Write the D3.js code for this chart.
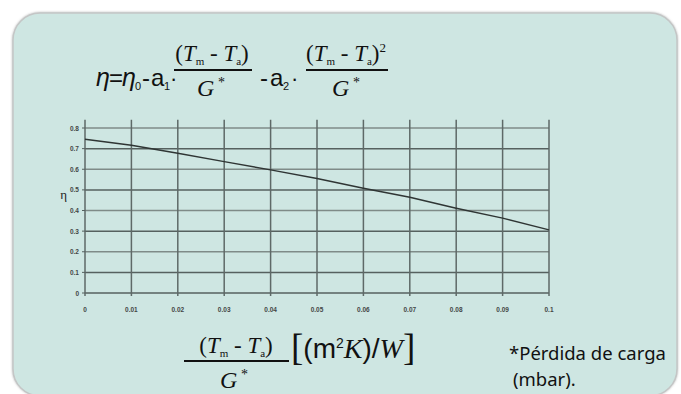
<!DOCTYPE html>
<html><head><meta charset="utf-8">
<script src="https://cdn.jsdelivr.net/npm/d3@7"></script>
<style>html,body{margin:0;padding:0;background:#fff;}svg{display:block;}</style>
</head><body>
<svg id="c" width="681" height="394"></svg>
<script>
// Data
const xValues = [0, 0.01, 0.02, 0.03, 0.04, 0.05, 0.06, 0.07, 0.08, 0.09, 0.1];
const etaValues = [0.745, 0.716, 0.678, 0.637, 0.597, 0.555, 0.508, 0.464, 0.411, 0.363, 0.306];
const xTickLabels = ["0", "0.01", "0.02", "0.03", "0.04", "0.05", "0.06", "0.07", "0.08", "0.09", "0.1"];
const yTicks = [0, 0.1, 0.2, 0.3, 0.4, 0.5, 0.6, 0.7, 0.8];
const yTickLabels = ["0", "0.1", "0.2", "0.3", "0.4", "0.5", "0.6", "0.7", "0.8"];

const svg = d3.select("#c");
const defs = svg.append("defs");
const f = defs.append("filter").attr("id","sh").attr("x","-5%").attr("y","-5%").attr("width","110%").attr("height","110%");
f.append("feDropShadow").attr("dx",0).attr("dy",0).attr("stdDeviation",0.8).attr("flood-color","#888").attr("flood-opacity",0.6);

// panel
svg.append("rect").attr("x",13).attr("y",13).attr("width",664).attr("height",383)
  .attr("rx",27).attr("ry",27).attr("fill","#cee6e2").attr("stroke","#c4c6c6").attr("stroke-width",1.5)
  .attr("filter","url(#sh)");

const x = d3.scaleLinear().domain([0, 0.1]).range([85, 549]);
const y = d3.scaleLinear().domain([0, 0.8]).range([293, 128]);

const g = svg.append("g");
g.selectAll("line.h").data(yTicks).enter().append("line")
  .attr("x1", x(0)).attr("x2", x(0.1))
  .attr("y1", d => y(d)).attr("y2", d => y(d))
  .attr("stroke", (d,i) => (i % 2 === 1 || i === 0) ? "#56615f" : "#7f8b88")
  .attr("stroke-width", 1.5);
g.selectAll("line.v").data(xValues).enter().append("line")
  .attr("x1", d => x(d)).attr("x2", d => x(d))
  .attr("y1", y(0) + 3).attr("y2", y(0.84))
  .attr("stroke", "#5e6967")
  .attr("stroke-width", 1.5);
g.selectAll("line.yt").data(yTicks).enter().append("line")
  .attr("x1", x(0) - 3).attr("x2", x(0))
  .attr("y1", d => y(d)).attr("y2", d => y(d))
  .attr("stroke", "#56615f").attr("stroke-width", 1);

g.selectAll("text.xl").data(xValues).enter().append("text")
  .attr("x", d => x(d)).attr("y", 312)
  .attr("text-anchor","middle").attr("font-family","Liberation Sans, Arial, sans-serif")
  .attr("font-size", 6.5).attr("font-weight","bold").attr("fill","#444746")
  .text((d,i) => xTickLabels[i]);
g.selectAll("text.yl").data(yTicks).enter().append("text")
  .attr("x", 79).attr("y", d => y(d) + 2.5)
  .attr("text-anchor","end").attr("font-family","Liberation Sans, Arial, sans-serif")
  .attr("font-size", 6.5).attr("font-weight","bold").attr("fill","#444746")
  .text((d,i) => yTickLabels[i]);
svg.append("text").attr("x",67).attr("y",199).attr("text-anchor","end")
  .attr("font-family","Liberation Serif, serif").attr("font-size",13).attr("fill","#222").text("η");

const line = d3.line().x((d,i) => x(xValues[i])).y(d => y(d));
g.append("path").datum(etaValues).attr("d", line)
  .attr("fill","none").attr("stroke","#2f3534").attr("stroke-width",1.5);

// ---- Formula at top ----
const SANS = "Liberation Sans, Arial, sans-serif";
const SERIF = "Liberation Serif, Times New Roman, serif";
const BASE = 86;
function piece(xp, txt, opt){
  opt = opt || {};
  const t = svg.append("text").attr("x",xp).attr("y",BASE + (opt.dy||0))
    .attr("font-family",SANS).attr("font-size",opt.fs||24).attr("fill","#111").text(txt);
  if (opt.it) t.attr("font-style","italic");
}
function numer(cx, yp, sq){
  const t = svg.append("text").attr("x",cx).attr("y",yp).attr("text-anchor","middle")
    .attr("font-family",SERIF).attr("font-size",23).attr("fill","#111");
  t.append("tspan").text("(");
  t.append("tspan").attr("font-style","italic").text("T");
  t.append("tspan").attr("font-size",11).attr("dy",4).text("m");
  t.append("tspan").attr("dy",-4).text(" - ");
  t.append("tspan").attr("font-style","italic").text("T");
  t.append("tspan").attr("font-size",11).attr("dy",4).text("a");
  t.append("tspan").attr("dy",-4).text(")");
  if (sq) t.append("tspan").attr("font-size",13).attr("dy",-9).text("2");
}
function denom(cx, yp){
  const t = svg.append("text").attr("x",cx).attr("y",yp).attr("text-anchor","middle")
    .attr("font-family",SERIF).attr("font-size",24).attr("fill","#111");
  t.append("tspan").attr("font-style","italic").text("G");
  t.append("tspan").attr("font-size",14).attr("dy",-9).text(" *");
}
function fracLine(x1, x2, yp){
  svg.append("line").attr("x1",x1).attr("x2",x2).attr("y1",yp).attr("y2",yp)
    .attr("stroke","#111").attr("stroke-width",1.8);
}
piece(96, "η", {it:true, fs:25});
piece(109, "=");
piece(122, "η", {it:true, fs:25});
piece(135, "0", {fs:11, dy:4});
piece(142, "-");
piece(151, "a");
piece(164, "1", {fs:11, dy:4});
piece(170, "·", {fs:22});
numer(212, 61, false); fracLine(174, 252, 70); denom(211, 96);
piece(260, "-");
piece(270, "a");
piece(283, "2", {fs:11, dy:4});
piece(291, "·", {fs:22});
numer(346, 61, true); fracLine(306, 388, 70); denom(346, 96);

// ---- Bottom axis label ----
numer(236, 353, false); fracLine(184, 289, 361); denom(234, 388);
const u = svg.append("text").attr("x",291).attr("y",358).attr("font-family",SANS)
  .attr("font-size",28).attr("fill","#111");
u.append("tspan").attr("font-family",SERIF).attr("font-size",37).attr("dy",2).text("[");
u.append("tspan").attr("dy",-2).text("(m");
u.append("tspan").attr("font-size",14).attr("dy",-10).text("2");
u.append("tspan").attr("dy",10).attr("font-family",SERIF).attr("font-style","italic").text("K");
u.append("tspan").text(")/");
u.append("tspan").attr("font-family",SERIF).attr("font-style","italic").text("W");
u.append("tspan").attr("font-family",SERIF).attr("font-size",37).attr("dy",2).text("]");

svg.append("text").attr("x",509).attr("y",360)
  .attr("font-family","Noto Sans, Open Sans, sans-serif").attr("font-size",18.5).attr("fill","#111")
  .text("*Pérdida de carga");
svg.append("text").attr("x",513).attr("y",386)
  .attr("font-family","Noto Sans, Open Sans, sans-serif").attr("font-size",18.5).attr("fill","#111")
  .text("(mbar).");
</script>
</body></html>
